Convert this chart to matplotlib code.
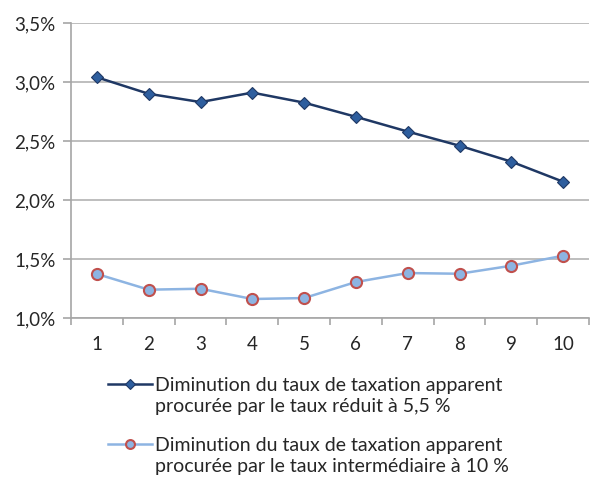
import numpy as np
import matplotlib
matplotlib.use("Agg")
import matplotlib.pyplot as plt
from matplotlib.lines import Line2D
from matplotlib.ticker import FuncFormatter, FixedLocator

plt.rcParams['font.family'] = ['Lato', 'DejaVu Sans']

deciles = [1, 2, 3, 4, 5, 6, 7, 8, 9, 10]
taux_reduit = [3.04, 2.90, 2.83, 2.91, 2.825, 2.705, 2.58, 2.46, 2.325, 2.155]
taux_interm = [1.373, 1.24, 1.248, 1.161, 1.169, 1.305, 1.381, 1.375, 1.443, 1.528]

label_reduit = "Diminution du taux de taxation apparent\nprocurée par le taux réduit à 5,5 %"
label_interm = "Diminution du taux de taxation apparent\nprocurée par le taux intermédiaire à 10 %"

txt = "#262626"
axis_grey = "#a6a6a6"

style_reduit = dict(color="#1f3864", lw=1.8, marker="D", ms=6.5,
                    mfc="#2e5e9e", mec="#1f3864", mew=0.8)
style_interm = dict(color="#8db4e2", lw=1.8, marker="o", ms=8,
                    mfc="#8db4e2", mec="#c0504d", mew=1.5)

fig = plt.figure(figsize=(5.93, 4.83), dpi=100)
ax = fig.add_axes([71 / 593, 1 - 318 / 483, 518 / 593, 295 / 483])

ax.plot(deciles, taux_reduit, zorder=3, **style_reduit)
ax.plot(deciles, taux_interm, zorder=3, **style_interm)

ax.set_xlim(0.5, 10.5)
ax.set_ylim(1.0, 3.5)
ax.set_yticks(np.arange(1.0, 3.51, 0.5))
ax.yaxis.set_major_formatter(FuncFormatter(lambda v, p: f"{v:.1f}%".replace(".", ",")))
ax.set_xticks(deciles)
ax.xaxis.set_minor_locator(FixedLocator(np.arange(0.5, 10.6, 1.0)))
ax.tick_params(axis="x", which="major", length=0, pad=13, labelsize=13.5, labelcolor=txt)
ax.tick_params(axis="x", which="minor", length=5, color=axis_grey, width=1.2)
ax.tick_params(axis="y", length=6, color=axis_grey, width=1.2, pad=5, labelsize=13.5,
               labelcolor=txt)

ax.grid(axis="y", color="#b3b3b3", lw=1.2)
ax.set_axisbelow(True)
for side in ["top", "right"]:
    ax.spines[side].set_visible(False)
for side in ["left", "bottom"]:
    ax.spines[side].set_color(axis_grey)
    ax.spines[side].set_linewidth(1.2)

# legend: short line with a marker in its middle, text block starting on the same line
entries = [(label_reduit, style_reduit, 384), (label_interm, style_interm, 444)]
for label, style, ypix in entries:
    yf = 1 - ypix / 483
    fig.add_artist(Line2D([108 / 593, 152 / 593], [yf, yf], color=style["color"],
                          lw=style["lw"], transform=fig.transFigure))
    fig.add_artist(Line2D([130 / 593], [yf], transform=fig.transFigure, ls="none",
                          marker=style["marker"], ms=style["ms"] * 0.8,
                          mfc=style["mfc"], mec=style["mec"], mew=style["mew"]))
    fig.text(155 / 593, 1 - (ypix - 7) / 483, label, ha="left", va="top",
             fontsize=14, color=txt, linespacing=1.3)

fig.savefig("out.png", dpi=100)
